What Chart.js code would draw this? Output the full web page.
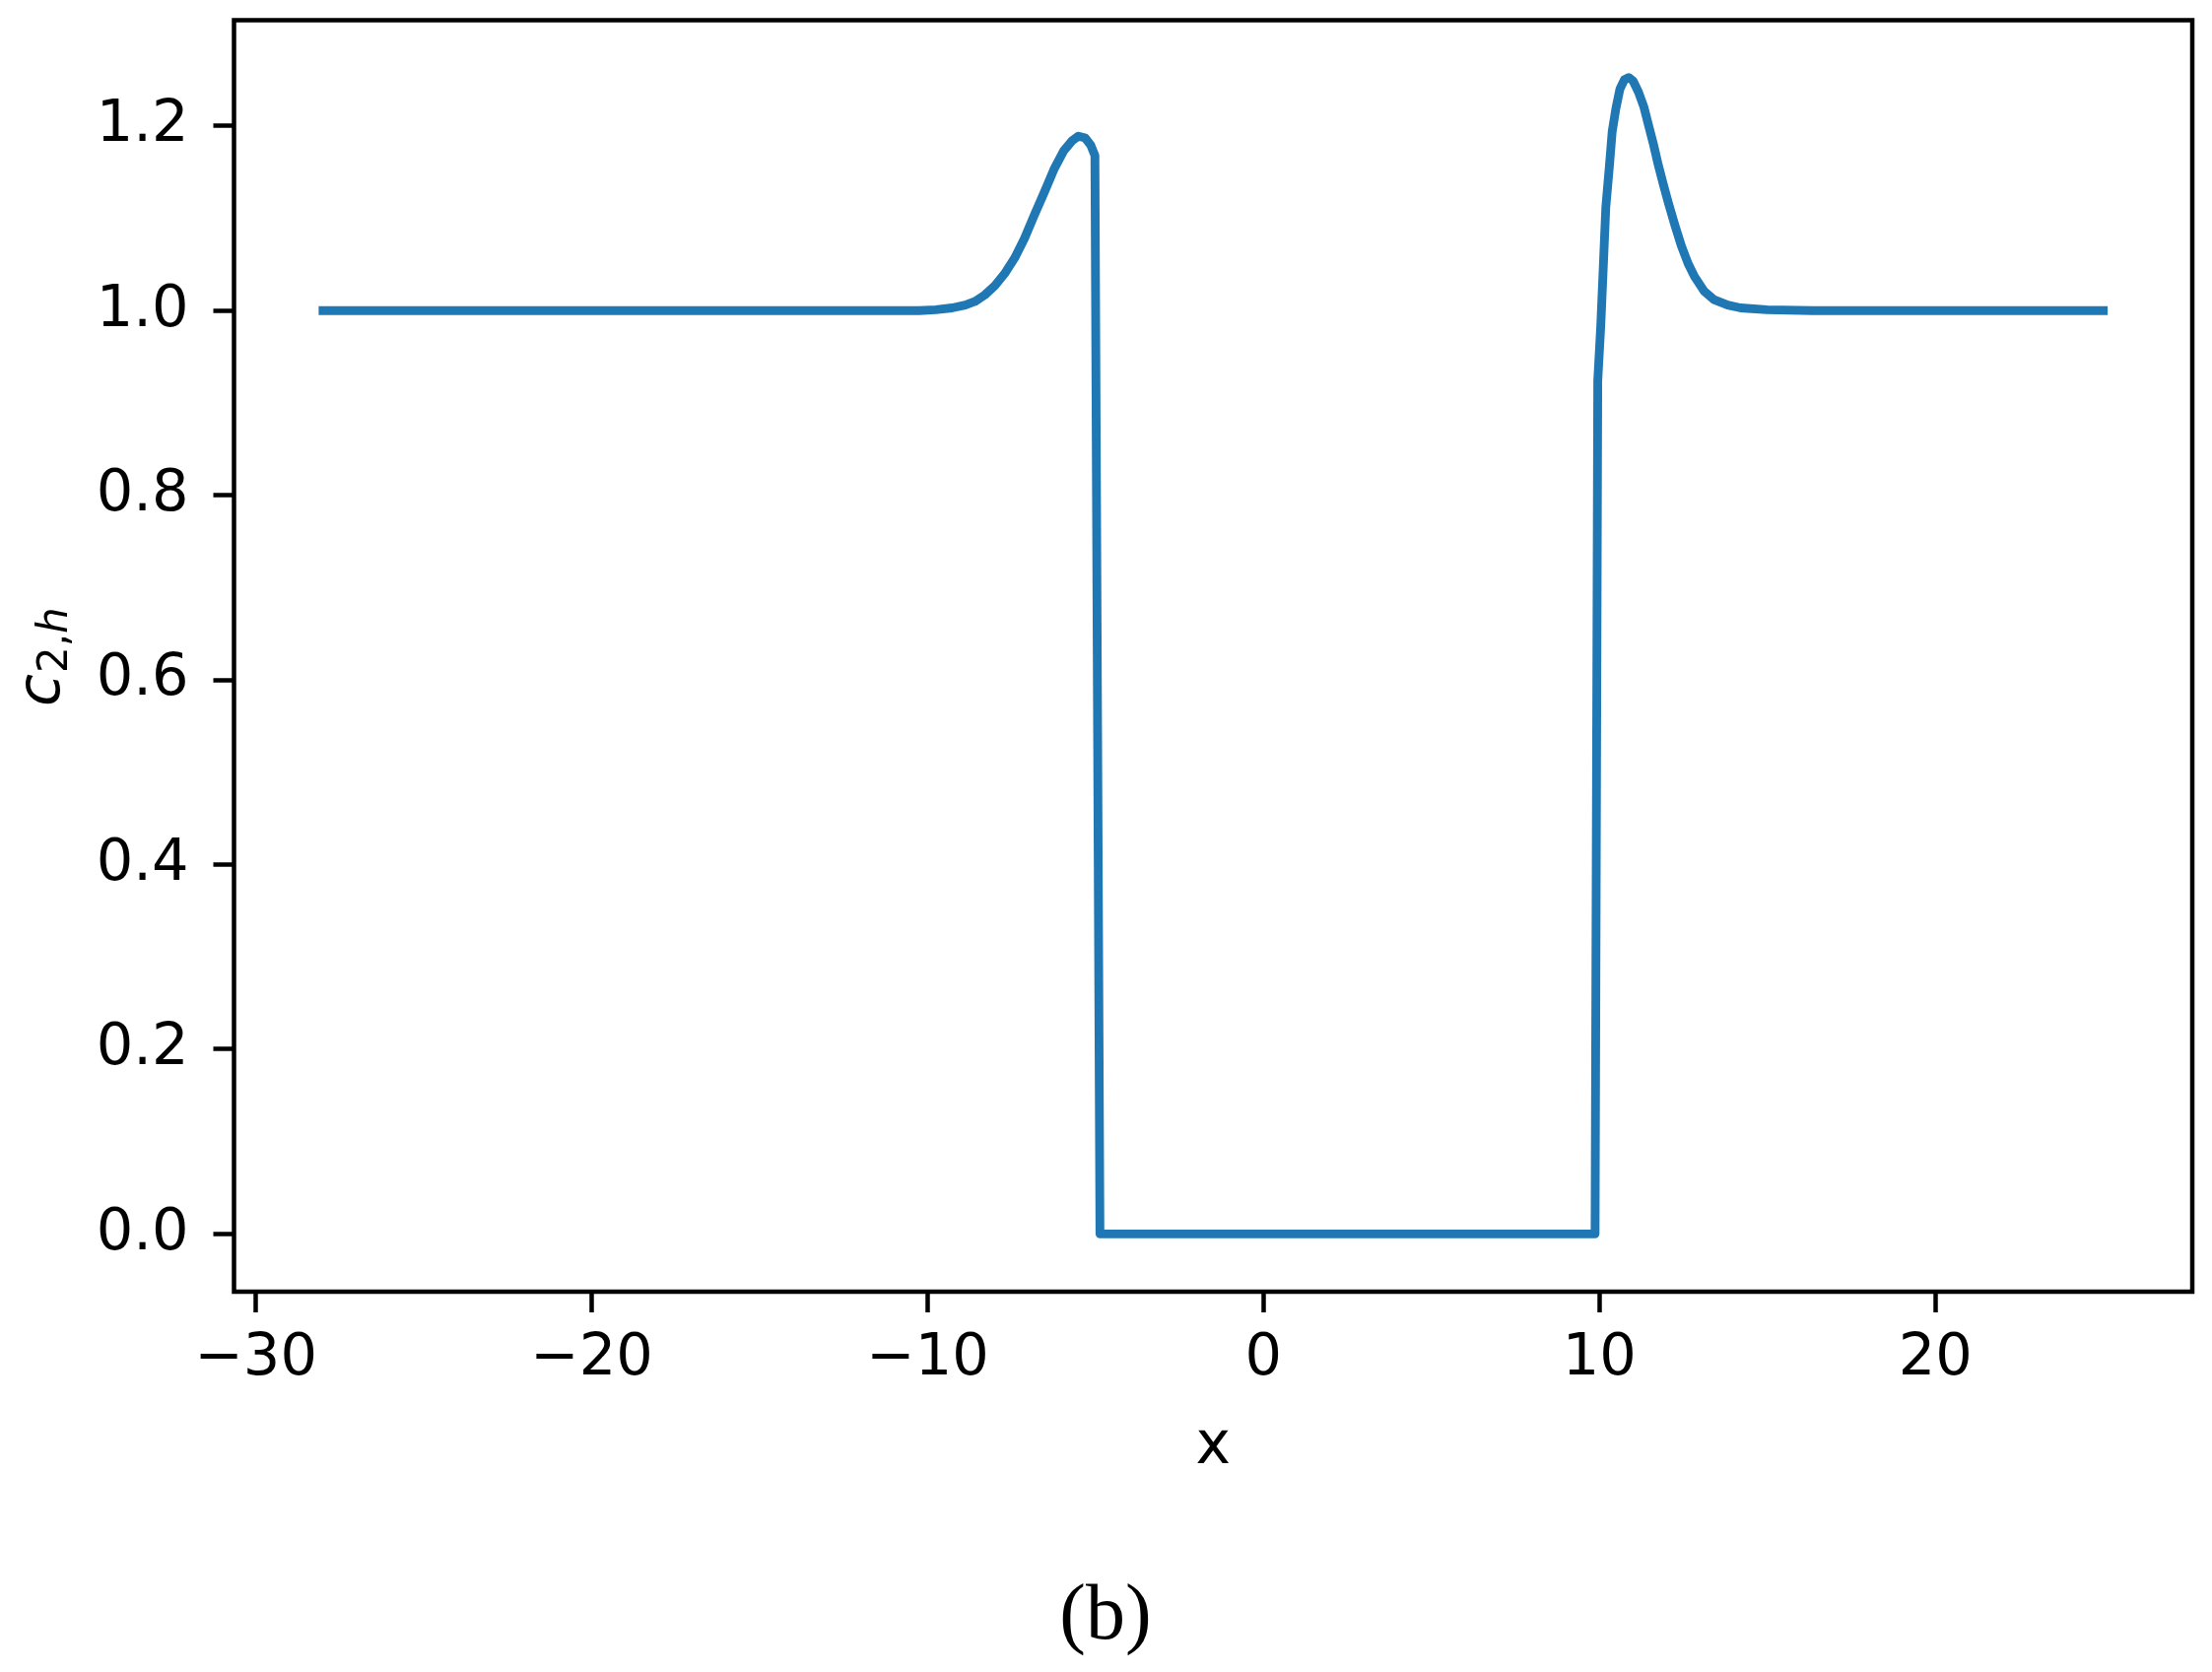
<!DOCTYPE html>
<html>
<head>
<meta charset="utf-8">
<script src="https://cdn.jsdelivr.net/npm/chart.js@4.4.1/dist/chart.umd.min.js"></script>
<style>
  html, body { margin: 0; padding: 0; background: #ffffff; }
  #wrap { width: 2245px; height: 1697px; position: relative; }
  canvas { display: block; }
</style>
</head>
<body>
<div id="wrap"><canvas id="c" width="2245" height="1697"></canvas></div>
<script>
// ---- data ----
const xValues = [
  -28.0, -12.0, -10.25, -9.76, -9.27, -8.88, -8.59, -8.30, -8.00, -7.71,
  -7.41, -7.12, -6.83, -6.53, -6.24, -5.95, -5.70, -5.51, -5.31, -5.14,
  -5.02, -4.87,
  9.87, 9.95, 10.04, 10.12, 10.19, 10.30, 10.38, 10.49, 10.61, 10.74,
  10.87, 11.00, 11.16, 11.32, 11.46, 11.61, 11.75, 11.90, 12.05, 12.25,
  12.44, 12.64, 12.83, 13.12, 13.41, 13.82, 14.20, 14.99, 16.35, 25.0
];
const yValues = [
  1.000, 1.000, 1.000, 1.001, 1.003, 1.006, 1.010, 1.017, 1.027, 1.040,
  1.057, 1.078, 1.103, 1.128, 1.153, 1.173, 1.184, 1.189, 1.187, 1.179,
  1.168, 0.000,
  0.000, 0.924, 0.984, 1.052, 1.112, 1.158, 1.194, 1.219, 1.240, 1.250,
  1.2525, 1.249, 1.237, 1.221, 1.201, 1.180, 1.158, 1.137, 1.117, 1.092,
  1.070, 1.051, 1.037, 1.021, 1.012, 1.006, 1.003, 1.001, 1.000, 1.000
];
const xTickValues = [-30, -20, -10, 0, 10, 20];
const yTickValues = [0.0, 0.2, 0.4, 0.6, 0.8, 1.0, 1.2];
const xAxisLabel = 'x';
const captionText = '(b)';

const points = xValues.map((x, i) => ({ x: x, y: yValues[i] }));

const FONT = '"DejaVu Sans", sans-serif';

const boxAndLabels = {
  id: 'boxAndLabels',
  afterDraw(chart) {
    const ctx = chart.ctx;
    const a = chart.chartArea;
    ctx.save();
    // axes frame
    ctx.strokeStyle = '#000000';
    ctx.lineWidth = 4.5;
    ctx.lineJoin = 'miter';
    ctx.strokeRect(a.left, a.top, a.right - a.left, a.bottom - a.top);

    // x axis label
    ctx.fillStyle = '#000000';
    ctx.font = '60px ' + FONT;
    ctx.textAlign = 'center';
    ctx.textBaseline = 'alphabetic';
    ctx.fillText(xAxisLabel, (a.left + a.right) / 2, 1485);

    // y axis label: c_{2,h}
    ctx.save();
    ctx.translate(60, 717);
    ctx.rotate(-Math.PI / 2);
    ctx.textAlign = 'left';
    ctx.textBaseline = 'alphabetic';
    ctx.font = 'italic 60px ' + FONT;
    ctx.fillText('c', 0, 0);
    let off = ctx.measureText('c').width + 1;
    ctx.font = '42px ' + FONT;
    ctx.fillText('2,', off, 8);
    off += ctx.measureText('2,').width;
    ctx.font = 'italic 42px ' + FONT;
    ctx.fillText('h', off, 8);
    ctx.restore();

    // caption
    ctx.font = '80px "Liberation Serif", "DejaVu Serif", serif';
    ctx.textAlign = 'center';
    ctx.textBaseline = 'alphabetic';
    ctx.fillText(captionText, 1122, 1663);
    ctx.restore();
  }
};

new Chart(document.getElementById('c'), {
  type: 'line',
  data: {
    datasets: [{
      data: points,
      borderColor: '#1f77b4',
      borderWidth: 8.9,
      pointRadius: 0,
      fill: false,
      tension: 0,
      borderJoinStyle: 'round',
      borderCapStyle: 'square'
    }]
  },
  options: {
    responsive: false,
    animation: false,
    devicePixelRatio: 1,
    layout: { padding: { left: 0, top: 20.5, right: 20, bottom: 0 } },
    plugins: { legend: { display: false }, tooltip: { enabled: false } },
    scales: {
      x: {
        type: 'linear',
        min: -30.65,
        max: 27.65,
        afterFit(s) { s.height = 386; s.paddingLeft = 0; s.paddingRight = 0; },
        afterBuildTicks(s) { s.ticks = xTickValues.map(v => ({ value: v })); },
        border: { display: false },
        grid: {
          drawOnChartArea: false,
          drawTicks: true,
          tickLength: 21,
          tickWidth: 4.5,
          tickColor: '#000000'
        },
        ticks: {
          color: '#000000',
          font: { family: FONT, size: 59 },
          padding: 12,
          maxRotation: 0,
          autoSkip: false,
          callback: (v) => String(v).replace('-', '\u2212')
        }
      },
      y: {
        type: 'linear',
        min: -0.0626,
        max: 1.3146,
        afterFit(s) { s.width = 237.5; s.paddingTop = 0; s.paddingBottom = 0; },
        afterBuildTicks(s) { s.ticks = yTickValues.map(v => ({ value: v })); },
        border: { display: false },
        grid: {
          drawOnChartArea: false,
          drawTicks: true,
          tickLength: 21,
          tickWidth: 4.5,
          tickColor: '#000000'
        },
        ticks: {
          color: '#000000',
          font: { family: FONT, size: 59 },
          padding: 25,
          autoSkip: false,
          callback: (v) => Number(v).toFixed(1)
        }
      }
    }
  },
  plugins: [boxAndLabels]
});
</script>
</body>
</html>
